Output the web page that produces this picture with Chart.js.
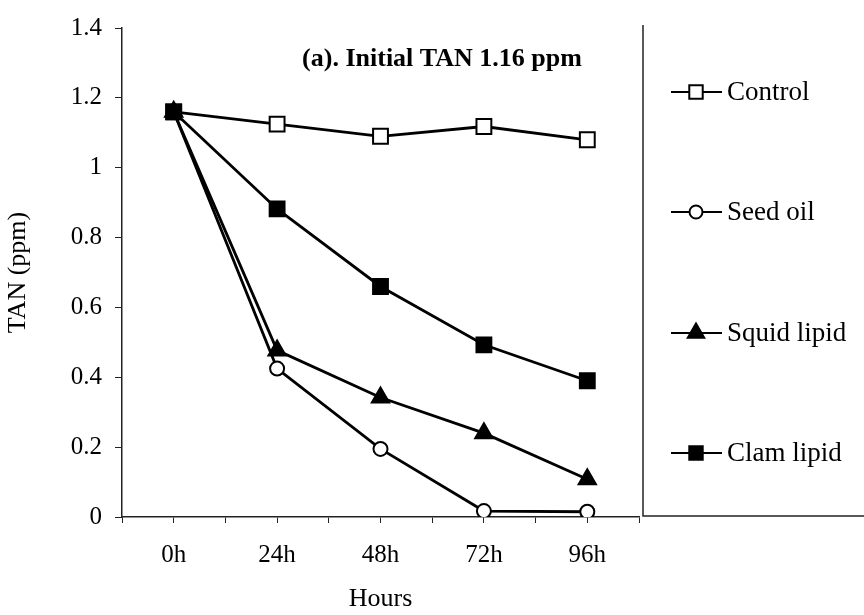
<!DOCTYPE html>
<html lang="en">
  <head>
    <meta charset="UTF-8" />
    <title>TAN over time</title>
    <script src="https://cdn.jsdelivr.net/npm/chart.js@4"></script>
    <style>
      body { margin: 0; background: #fff; }
    </style>
  </head>
  <body>
    <canvas id="myChart" width="864" height="615"></canvas>

    <script>
      // values (a)
      const hours = ['0h', '24h', '48h', '72h', '96h'];
      const control = [1.16, 1.125, 1.09, 1.118, 1.08];
      const seedOil = [1.16, 0.425, 0.195, 0.017, 0.015];
      const squidLipid = [1.16, 0.477, 0.342, 0.24, 0.108];
      const clamLipid = [1.16, 0.882, 0.66, 0.493, 0.39];
      const yTicks = [0, 0.2, 0.4, 0.6, 0.8, 1, 1.2, 1.4];

      const serif = '"Liberation Serif", "Times New Roman", serif';

      function toPoints(arr) {
        return arr.map((v, i) => ({ x: i, y: v }));
      }

      function marker(ctx, style, x, y, r) {
        ctx.beginPath();
        if (style === 'rect') {
          const s = Math.SQRT1_2 * r;
          ctx.rect(x - s, y - s, 2 * s, 2 * s);
        } else if (style === 'circle') {
          ctx.arc(x, y, r, 0, Math.PI * 2);
        } else if (style === 'triangle') {
          ctx.moveTo(x, y - r);
          ctx.lineTo(x + r * Math.sin(Math.PI / 3), y + r / 2);
          ctx.lineTo(x - r * Math.sin(Math.PI / 3), y + r / 2);
          ctx.closePath();
        }
      }

      // title inside the plot + boxed legend on the right
      const extras = {
        id: 'extras',
        afterDraw(chart) {
          const ctx = chart.ctx;
          const area = chart.chartArea;
          ctx.save();
          ctx.fillStyle = '#000';
          ctx.font = 'bold 26px ' + serif;
          ctx.textAlign = 'center';
          ctx.textBaseline = 'middle';
          ctx.fillText('(a). Initial TAN 1.16 ppm', area.left + 320, area.top + 31);

          // legend frame
          const bx = area.right + 4;
          ctx.strokeStyle = '#222';
          ctx.lineWidth = 1.5;
          ctx.beginPath();
          ctx.moveTo(bx, area.top - 3);
          ctx.lineTo(bx, area.bottom - 1);
          ctx.lineTo(chart.width, area.bottom - 1);
          ctx.stroke();

          const rowY = [92, 212, 333, 453];
          chart.data.datasets.forEach((ds, i) => {
            const y = rowY[i];
            ctx.strokeStyle = '#000';
            ctx.lineWidth = 2;
            ctx.beginPath();
            ctx.moveTo(bx + 28, y);
            ctx.lineTo(bx + 79, y);
            ctx.stroke();
            marker(ctx, ds.pointStyle, bx + 53, y, ds.pointStyle === 'circle' ? 6.5 : 9.5);
            ctx.fillStyle = ds.pointBackgroundColor;
            ctx.fill();
            ctx.lineWidth = 2;
            ctx.stroke();
            ctx.fillStyle = '#000';
            ctx.font = '27px ' + serif;
            ctx.textAlign = 'left';
            ctx.fillText(ds.label, bx + 84, y + 1);
          });
          ctx.restore();
        }
      };

      function series(label, data, style, fill, radius, order) {
        return {
          label: label,
          data: toPoints(data),
          borderColor: '#000',
          borderWidth: 2.8,
          pointStyle: style,
          pointRadius: radius,
          pointHoverRadius: radius,
          pointBackgroundColor: fill,
          pointBorderColor: '#000',
          pointBorderWidth: 2,
          order: order
        };
      }

      const ctx = document.getElementById('myChart').getContext('2d');
      const myChart = new Chart(ctx, {
        type: 'line',
        data: {
          datasets: [
            series('Control', control, 'rect', '#fff', 10.5, 3),
            series('Seed oil', seedOil, 'circle', '#fff', 7, 2),
            series('Squid lipid', squidLipid, 'triangle', '#000', 10, 1),
            series('Clam lipid', clamLipid, 'rect', '#000', 10.5, 0)
          ]
        },
        options: {
          responsive: false,
          animation: false,
          layout: { padding: { top: 20, right: 225, bottom: 0, left: 0 } },
          plugins: {
            legend: { display: false },
            tooltip: { enabled: false }
          },
          scales: {
            x: {
              type: 'linear',
              min: -0.5,
              max: 4.5,
              afterBuildTicks(scale) {
                const t = [];
                for (let v = -0.5; v <= 4.5; v += 0.5) t.push({ value: v });
                scale.ticks = t;
              },
              afterFit(scale) { scale.height = 98; },
              grid: { drawOnChartArea: false, tickLength: 6, color: '#222' },
              border: { display: true, color: '#222', width: 1.5 },
              ticks: {
                autoSkip: false,
                maxRotation: 0,
                color: '#000',
                padding: 17,
                font: { family: serif, size: 25 },
                callback: v => (Number.isInteger(v) ? hours[v] : '')
              },
              title: {
                display: true,
                text: 'Hours',
                color: '#000',
                padding: { top: 0, bottom: 0 },
                font: { family: serif, size: 26 }
              }
            },
            y: {
              min: 0,
              max: 1.4,
              afterBuildTicks(scale) {
                scale.ticks = yTicks.map(v => ({ value: v }));
              },
              afterFit(scale) { scale.width = 122; },
              grid: { drawOnChartArea: false, tickLength: 7, color: '#222' },
              border: { display: true, color: '#222', width: 1.5 },
              ticks: {
                color: '#000',
                padding: 13,
                font: { family: serif, size: 25 },
                callback: v => String(Math.round(v * 10) / 10)
              },
              title: {
                display: true,
                text: 'TAN (ppm)',
                color: '#000',
                padding: { top: 3, bottom: 0 },
                font: { family: serif, size: 26 }
              }
            }
          }
        },
        plugins: [extras]
      });
    </script>
  </body>
</html>
